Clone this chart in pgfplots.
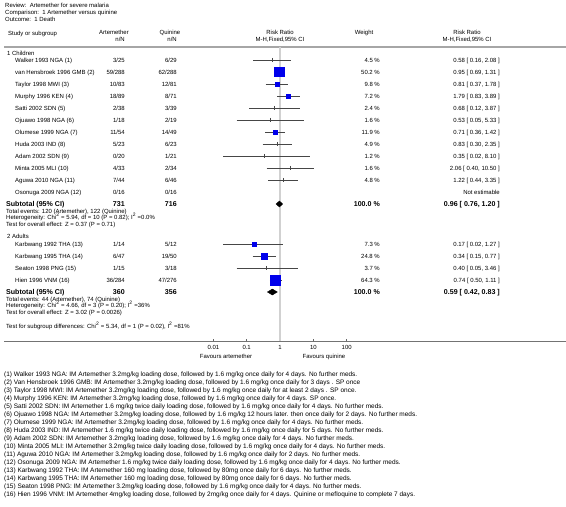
\documentclass[border=0pt]{standalone}
\usepackage{pgfplots}
\pgfplotsset{compat=1.18}
\usepackage{pgfplotstable}
\usepackage{fontspec}
\setmainfont{Liberation Sans}
\newcommand{\fs}{\fontsize{6.0}{7}\selectfont}
\newcommand{\ff}{\fontsize{6.5}{7.5}\selectfont}
\newcommand{\fb}{\fontsize{7.1}{8.5}\selectfont\bfseries}
\newcommand{\tL}[3]{\node[anchor=base west] at (#1,{-(#2)-2}) {#3};}
\newcommand{\tR}[3]{\node[anchor=base east] at (#1,{-(#2)-2}) {#3};}
\newcommand{\tC}[3]{\node[anchor=base] at (#1,{-(#2)-2}) {#3};}
\newcommand{\tF}[2]{\node[anchor=base west,font=\ff] at (4,{-(#1)-2}) {#2};}
\definecolor{cigray}{RGB}{70,70,70}
\definecolor{sqblue}{RGB}{0,0,235}
\pgfplotstableread{
y est lo hi
60 0.58 0.16 2.08
72 0.95 0.69 1.31
84 0.81 0.37 1.78
96 1.79 0.83 3.89
108 0.68 0.12 3.87
120 0.53 0.05 5.33
132 0.71 0.36 1.42
144 0.83 0.30 2.35
156 0.35 0.02 8.10
168 2.06 0.40 10.50
180 1.22 0.44 3.35
244 0.17 0.02 1.27
256 0.34 0.15 0.77
268 0.40 0.05 3.46
280 0.74 0.50 1.11
}\studies
\begin{document}
\begin{tikzpicture}
\path[use as bounding box] (0,0) rectangle (566bp,-507bp);
\begin{scope}[x=1bp,y=1bp,every node/.style={inner sep=0pt,font=\fs}]
% header
\tL{5}{5}{Review:\ \ Artemether for severe malaria}
\tL{5}{12}{Comparison:\ \ 1 Artemether versus quinine}
\tL{5}{19}{Outcome:\ \ 1 Death}
\tL{8}{33}{Study or subgroup}
\tC{114}{32}{Artemether}
\tR{125}{39}{n/N}
\tC{170}{32}{Quinine}
\tR{177}{39}{n/N}
\tC{280}{32}{Risk Ratio}
\tC{280}{39}{M-H,Fixed,95\% CI}
\tC{364}{32}{Weight}
\tC{467}{32}{Risk Ratio}
\tC{467}{39}{M-H,Fixed,95\% CI}
\draw[black!35,line width=1.3bp] (4,-47) -- (566,-47);
% group 1
\tL{7}{53}{1 Children}
\tL{15}{60}{Walker 1993 NGA (1)}\tR{125}{60}{3/25}\tR{177}{60}{6/29}\tR{380}{60}{4.5 \%}\tR{500}{60}{0.58 [ 0.16, 2.08 ]}
\tL{15}{72}{van Hensbroek 1996 GMB (2)}\tR{125}{72}{59/288}\tR{177}{72}{62/288}\tR{380}{72}{50.2 \%}\tR{500}{72}{0.95 [ 0.69, 1.31 ]}
\tL{15}{84}{Taylor 1998 MWI (3)}\tR{125}{84}{10/83}\tR{177}{84}{12/81}\tR{380}{84}{9.8 \%}\tR{500}{84}{0.81 [ 0.37, 1.78 ]}
\tL{15}{96}{Murphy 1996 KEN (4)}\tR{125}{96}{18/89}\tR{177}{96}{8/71}\tR{380}{96}{7.2 \%}\tR{500}{96}{1.79 [ 0.83, 3.89 ]}
\tL{15}{108}{Satti 2002 SDN (5)}\tR{125}{108}{2/38}\tR{177}{108}{3/39}\tR{380}{108}{2.4 \%}\tR{500}{108}{0.68 [ 0.12, 3.87 ]}
\tL{15}{120}{Ojuawo 1998 NGA (6)}\tR{125}{120}{1/18}\tR{177}{120}{2/19}\tR{380}{120}{1.6 \%}\tR{500}{120}{0.53 [ 0.05, 5.33 ]}
\tL{15}{132}{Olumese 1999 NGA (7)}\tR{125}{132}{11/54}\tR{177}{132}{14/49}\tR{380}{132}{11.9 \%}\tR{500}{132}{0.71 [ 0.36, 1.42 ]}
\tL{15}{144}{Huda 2003 IND (8)}\tR{125}{144}{5/23}\tR{177}{144}{6/23}\tR{380}{144}{4.9 \%}\tR{500}{144}{0.83 [ 0.30, 2.35 ]}
\tL{15}{156}{Adam 2002 SDN (9)}\tR{125}{156}{0/20}\tR{177}{156}{1/21}\tR{380}{156}{1.2 \%}\tR{500}{156}{0.35 [ 0.02, 8.10 ]}
\tL{15}{168}{Minta 2005 MLI (10)}\tR{125}{168}{4/33}\tR{177}{168}{2/34}\tR{380}{168}{1.6 \%}\tR{500}{168}{2.06 [ 0.40, 10.50 ]}
\tL{15}{180}{Aguwa 2010 NGA (11)}\tR{125}{180}{7/44}\tR{177}{180}{6/46}\tR{380}{180}{4.8 \%}\tR{500}{180}{1.22 [ 0.44, 3.35 ]}
\tL{15}{192}{Osonuga 2009 NGA (12)}\tR{125}{192}{0/16}\tR{177}{192}{0/16}\tR{500}{192}{Not estimable}
\node[anchor=base west,font=\fb] at (6,-206.5) {Subtotal (95\% CI)};
\node[anchor=base east,font=\fb] at (125,-206.5) {731};
\node[anchor=base east,font=\fb] at (177,-206.5) {716};
\node[anchor=base east,font=\fb] at (380,-206.5) {100.0 \%};
\node[anchor=base east,font=\fb] at (500,-206.5) {0.96 [ 0.76, 1.20 ]};
\tL{6}{211}{Total events: 120 (Artemether), 122 (Quinine)}
\tL{6}{217.5}{Heterogeneity: Chi\textsuperscript{2} = 5.94, df = 10 (P = 0.82); I\textsuperscript{2} =0.0\%}
\tL{6}{224}{Test for overall effect: Z = 0.37 (P = 0.71)}
% group 2
\tL{7}{236}{2 Adults}
\tL{15}{244}{Karbwang 1992 THA (13)}\tR{125}{244}{1/14}\tR{177}{244}{5/12}\tR{380}{244}{7.3 \%}\tR{500}{244}{0.17 [ 0.02, 1.27 ]}
\tL{15}{256}{Karbwang 1995 THA (14)}\tR{125}{256}{6/47}\tR{177}{256}{19/50}\tR{380}{256}{24.8 \%}\tR{500}{256}{0.34 [ 0.15, 0.77 ]}
\tL{15}{268}{Seaton 1998 PNG (15)}\tR{125}{268}{1/15}\tR{177}{268}{3/18}\tR{380}{268}{3.7 \%}\tR{500}{268}{0.40 [ 0.05, 3.46 ]}
\tL{15}{280}{Hien 1996 VNM (16)}\tR{125}{280}{36/284}\tR{177}{280}{47/276}\tR{380}{280}{64.3 \%}\tR{500}{280}{0.74 [ 0.50, 1.11 ]}
\node[anchor=base west,font=\fb] at (6,-294.5) {Subtotal (95\% CI)};
\node[anchor=base east,font=\fb] at (125,-294.5) {360};
\node[anchor=base east,font=\fb] at (177,-294.5) {356};
\node[anchor=base east,font=\fb] at (380,-294.5) {100.0 \%};
\node[anchor=base east,font=\fb] at (500,-294.5) {0.59 [ 0.42, 0.83 ]};
\tL{6}{299}{Total events: 44 (Artemether), 74 (Quinine)}
\tL{6}{305.5}{Heterogeneity: Chi\textsuperscript{2} = 4.66, df = 3 (P = 0.20); I\textsuperscript{2} =36\%}
\tL{6}{312}{Test for overall effect: Z = 3.02 (P = 0.0026)}
\tL{6}{326}{Test for subgroup differences: Chi\textsuperscript{2} = 5.34, df = 1 (P = 0.02), I\textsuperscript{2} =81\%}
\draw[black!55,line width=0.7bp] (4,-341) -- (566,-341);
\tC{226}{356}{Favours artemether}
\tC{324}{356}{Favours quinine}
% footnotes
\tF{374}{(1) Walker 1993 NGA: IM Artemether 3.2mg/kg loading dose, followed by 1.6 mg/kg once daily for 4 days. No further meds.}
\tF{382}{(2) Van Hensbroek 1996 GMB: IM Artemether 3.2mg/kg loading dose, followed by 1.6 mg/kg once daily for 3 days . SP once}
\tF{390}{(3) Taylor 1998 MWI: IM Artemether 3.2mg/kg loading dose, followed by 1.6 mg/kg once daily for at least 2 days . SP once.}
\tF{398}{(4) Murphy 1996 KEN: IM Artemether 3.2mg/kg loading dose, followed by 1.6 mg/kg once daily for 4 days. SP once.}
\tF{406}{(5) Satti 2002 SDN: IM Artemether 1.6 mg/kg twice daily loading dose, followed by 1.6 mg/kg once daily for 4 days. No further meds.}
\tF{414}{(6) Ojuawo 1998 NGA: IM Artemether 3.2mg/kg loading dose, followed by 1.6 mg/kg 12 hours later. then once daily for 2 days. No further meds.}
\tF{422}{(7) Olumese 1999 NGA: IM Artemether 3.2mg/kg loading dose, followed by 1.6 mg/kg once daily for 4 days. No further meds.}
\tF{430}{(8) Huda 2003 IND: IM Artemether 1.6 mg/kg twice daily loading dose, followed by 1.6 mg/kg once daily for 5 days. No further meds.}
\tF{438}{(9) Adam 2002 SDN: IM Artemether 3.2mg/kg loading dose, followed by 1.6 mg/kg once daily for 4 days. No further meds.}
\tF{446}{(10) Minta 2005 MLI: IM Artemether 3.2mg/kg twice daily loading dose, followed by 1.6 mg/kg once daily for 4 days. No further meds.}
\tF{454}{(11) Aguwa 2010 NGA: IM Artemether 3.2mg/kg loading dose, followed by 1.6 mg/kg once daily for 2 days. No further meds.}
\tF{462}{(12) Osonuga 2009 NGA: IM Artemether 1.6 mg/kg twice daily loading dose, followed by 1.6 mg/kg once daily for 4 days. No further meds.}
\tF{470}{(13) Karbwang 1992 THA: IM Artemether 160 mg loading dose, followed by 80mg once daily for 6 days. No further meds.}
\tF{478}{(14) Karbwang 1995 THA: IM Artemether 160 mg loading dose, followed by 80mg once daily for 6 days. No further meds.}
\tF{486}{(15) Seaton 1998 PNG: IM Artemether 3.2mg/kg loading dose, followed by 1.6 mg/kg once daily for 4 days. No further meds.}
\tF{494}{(16) Hien 1996 VNM: IM Artemether 4mg/kg loading dose, followed by 2mg/kg once daily for 4 days. Quinine or mefloquine to complete 7 days.}
\end{scope}
% forest plot
\begin{axis}[at={(180bp,-341bp)},anchor=south west,scale only axis,
  width=200bp,height=294bp,xmode=log,xmin=0.001,xmax=1000,
  ymin=47,ymax=341,y dir=reverse,clip=false,
  axis x line*=bottom,axis y line=none,
  x axis line style={draw=none},
  xtick={0.01,0.1,1,10,100},xticklabels={0.01,0.1,1,10,100},
  xminorticks=false,
  tick align=inside,major tick length=2.5bp,
  tick style={black!60,line width=0.5bp},
  xticklabel style={font=\fs,inner sep=0pt,yshift=-4bp}]
\addplot[black!18,line width=1.6bp,mark=none] coordinates {(1,47) (1,341)};
\addplot[cigray,line width=0.75bp,mark=none,unbounded coords=jump] coordinates {
(0.16,60) (2.08,60) (nan,nan)
(0.69,72) (1.31,72) (nan,nan)
(0.37,84) (1.78,84) (nan,nan)
(0.83,96) (3.89,96) (nan,nan)
(0.12,108) (3.87,108) (nan,nan)
(0.05,120) (5.33,120) (nan,nan)
(0.36,132) (1.42,132) (nan,nan)
(0.30,144) (2.35,144) (nan,nan)
(0.02,156) (8.10,156) (nan,nan)
(0.40,168) (10.50,168) (nan,nan)
(0.44,180) (3.35,180) (nan,nan)
(0.02,244) (1.27,244) (nan,nan)
(0.15,256) (0.77,256) (nan,nan)
(0.05,268) (3.46,268) (nan,nan)
(0.50,280) (1.11,280)};
\addplot[only marks,mark=|,mark size=2.2bp,cigray,mark options={line width=0.7bp}] table[x=est,y=y]{\studies};
\addplot[only marks,mark=square*,mark size=4.6bp,sqblue] coordinates {(0.95,72)};
\addplot[only marks,mark=square*,mark size=2.0bp,sqblue] coordinates {(0.81,84)};
\addplot[only marks,mark=square*,mark size=1.8bp,sqblue] coordinates {(1.79,96)};
\addplot[only marks,mark=square*,mark size=2.1bp,sqblue] coordinates {(0.71,132)};
\addplot[only marks,mark=square*,mark size=1.8bp,sqblue] coordinates {(0.17,244)};
\addplot[only marks,mark=square*,mark size=3.0bp,sqblue] coordinates {(0.34,256)};
\addplot[only marks,mark=square*,mark size=5.0bp,sqblue] coordinates {(0.74,280)};
\addplot[fill=black,draw=black,mark=none] coordinates {(0.76,204) (0.96,201) (1.20,204) (0.96,207)} -- cycle;
\addplot[fill=black,draw=black,mark=none] coordinates {(0.42,292) (0.59,289) (0.83,292) (0.59,295)} -- cycle;
\end{axis}
\end{tikzpicture}
\end{document}
